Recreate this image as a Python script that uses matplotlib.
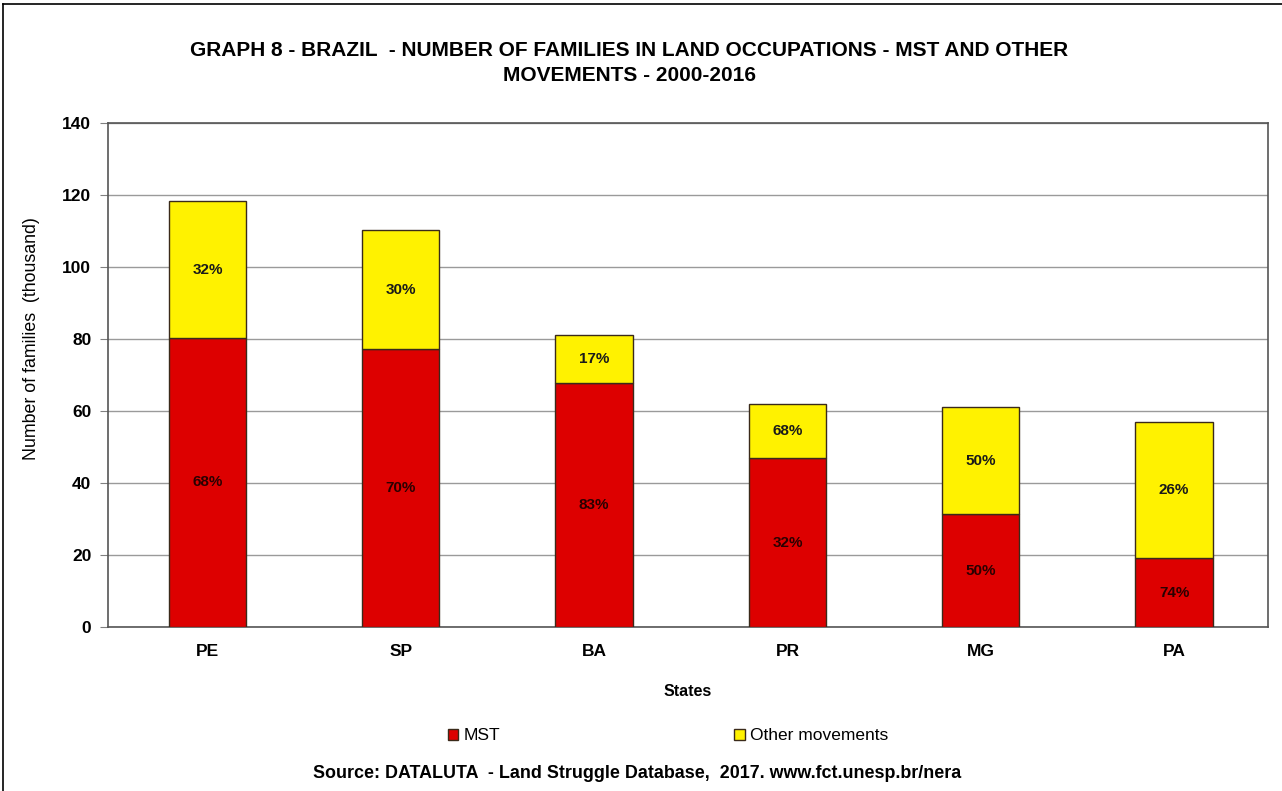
import numpy as np
import matplotlib.pyplot as plt
from matplotlib.patches import Patch
from matplotlib.lines import Line2D

plt.rcParams['font.family'] = ['Liberation Sans', 'DejaVu Sans']

states = ['PE', 'SP', 'BA', 'PR', 'MG', 'PA']
total = [118.3, 110.3, 81.1, 61.9, 61.1, 56.9]
mst = [80.3, 77.2, 67.9, 46.9, 31.4, 19.1]
other = [t - m for t, m in zip(total, mst)]
mst_labels = ['68%', '70%', '83%', '32%', '50%', '74%']
other_labels = ['32%', '30%', '17%', '68%', '50%', '26%']

red = '#dd0000'
yellow = '#fff200'

fig = plt.figure(figsize=(12.82, 7.91), dpi=100)
ax = fig.add_axes([0.0842, 0.2073, 0.9048, 0.6372])

x = np.arange(len(states))
ax.bar(x + 0.015, mst, width=0.4, color=red, edgecolor='#3a2a1a', linewidth=1, zorder=3)
ax.bar(x + 0.015, other, width=0.4, bottom=mst, color=yellow, edgecolor='#3a2a1a', linewidth=1, zorder=3)

# percentage labels in the middle of each segment
for i in range(len(states)):
    ax.text(x[i] + 0.015, mst[i] / 2, mst_labels[i], ha='center', va='center',
            fontsize=11, fontweight='bold', color='#2a0000', zorder=4)
    ax.text(x[i] + 0.015, mst[i] + other[i] / 2, other_labels[i], ha='center', va='center',
            fontsize=11, fontweight='bold', color='#1a1a1a', zorder=4)

ax.set_xlim(-0.5, len(states) - 0.5)
ax.set_ylim(0, 140)
ax.set_yticks(np.arange(0, 141, 20))
ax.set_xticks(x + 0.015)
ax.set_xticklabels(states, fontsize=12.5, fontweight='bold')
for lab in ax.get_yticklabels():
    lab.set_fontsize(12.5)
    lab.set_fontweight('bold')
ax.tick_params(axis='x', length=0, pad=12)
ax.tick_params(axis='y', length=6, color='#808080', pad=6)
ax.yaxis.grid(True, color='#9a9a9a', linewidth=1)
ax.set_axisbelow(True)
for sp in ax.spines.values():
    sp.set_color('#555555')
    sp.set_linewidth(1.2)

ax.set_ylabel('Number of families  (thousand)', fontsize=12.8)
ax.yaxis.set_label_coords(-0.059, 0.573)
ax.set_xlabel('States', fontsize=11.5, fontweight='bold', labelpad=18)

fig.text(0.491, 0.936, 'GRAPH 8 - BRAZIL  - NUMBER OF FAMILIES IN LAND OCCUPATIONS - MST AND OTHER',
         ha='center', va='center', fontsize=15, fontweight='bold')
fig.text(0.491, 0.905, 'MOVEMENTS - 2000-2016', ha='center', va='center',
         fontsize=15, fontweight='bold')

handles = [Patch(facecolor=red, edgecolor='#3a2a1a', label='MST'),
           Patch(facecolor=yellow, edgecolor='#3a2a1a', label='Other movements')]
fig.legend(handles=handles, loc='center', bbox_to_anchor=(668 / 1282, 1 - 736 / 791),
           ncol=2, frameon=False, fontsize=12.5, handlelength=0.6, handleheight=0.6,
           handletextpad=0.3, columnspacing=13.5)

fig.text(0.497, 1 - 773 / 791,
         'Source: DATALUTA  - Land Struggle Database,  2017. www.fct.unesp.br/nera',
         ha='center', va='center', fontsize=12.9, fontweight='bold')

# outer border (top and left visible in original)
fig.add_artist(Line2D([0.0025, 0.0025], [0, 0.995], color='black', linewidth=1.2,
                      transform=fig.transFigure))
fig.add_artist(Line2D([0.0025, 1], [0.995, 0.995], color='black', linewidth=1.2,
                      transform=fig.transFigure))

fig.savefig('out.png', dpi=100)
